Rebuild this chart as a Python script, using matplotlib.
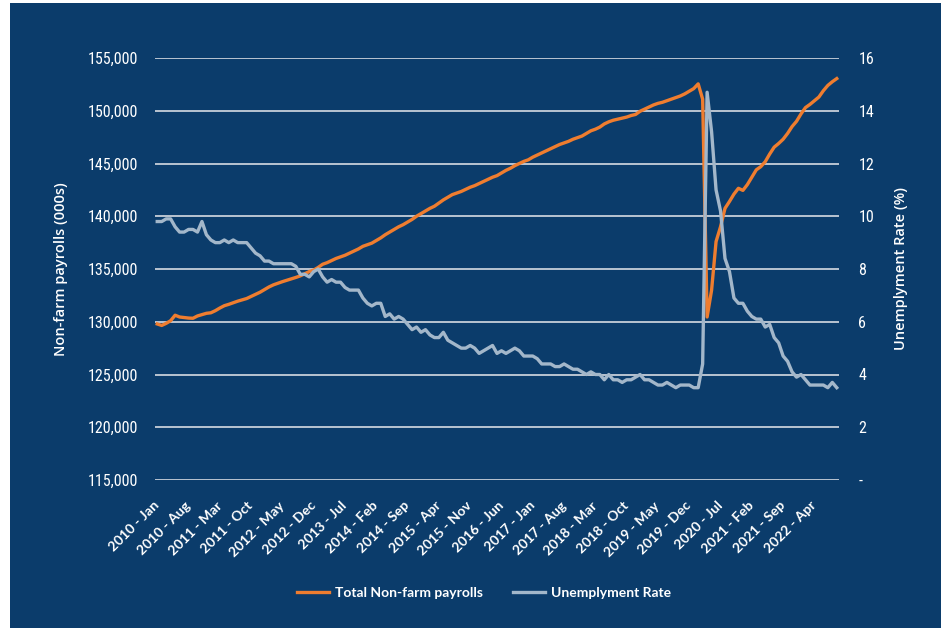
import numpy as np
import matplotlib
matplotlib.use("Agg")
import matplotlib.pyplot as plt
from matplotlib import font_manager
from matplotlib.patches import Rectangle
from matplotlib.transforms import ScaledTranslation

# monthly data, 2010 Jan .. 2022 Sep
payrolls = [
    # 2010
    129790, 129650, 129850, 130100, 130620, 130450, 130400, 130350, 130330, 130550, 130680, 130800,
    # 2011
    130850, 131050, 131300, 131520, 131650, 131800, 131950, 132080, 132200, 132400, 132600, 132800,
    # 2012
    133050, 133300, 133500, 133650, 133800, 133930, 134050, 134200, 134350, 134550, 134750, 134900,
    # 2013
    135150, 135450, 135600, 135800, 136000, 136150, 136300, 136500, 136700, 136900, 137150, 137300,
    # 2014
    137450, 137700, 137950, 138250, 138500, 138750, 139000, 139200, 139450, 139700, 140000, 140250,
    # 2015
    140500, 140750, 140950, 141250, 141550, 141800, 142050, 142200, 142350, 142550, 142750, 142900,
    # 2016
    143100, 143300, 143500, 143700, 143850, 144100, 144350, 144550, 144800, 145000, 145200, 145350,
    # 2017
    145600, 145800, 146000, 146200, 146400, 146600, 146800, 146950, 147100, 147300, 147450, 147600,
    # 2018
    147850, 148100, 148250, 148450, 148750, 148950, 149100, 149200, 149300, 149400, 149550, 149650,
    # 2019
    149950, 150150, 150350, 150550, 150700, 150800, 150950, 151100, 151250, 151400, 151600, 151850,
    # 2020
    152100, 152550, 151100, 130450, 133000, 137600, 139000, 140750, 141400, 142100, 142650, 142450,
    # 2021
    143000, 143700, 144400, 144700, 145170, 145900, 146550, 146900, 147300, 147850, 148500, 149000,
    # 2022
    149700, 150300, 150600, 150950, 151300, 151900, 152400, 152750, 153050,
]

unemployment = [
    9.8, 9.8, 9.9, 9.9, 9.6, 9.4, 9.4, 9.5, 9.5, 9.4, 9.8, 9.3,
    9.1, 9.0, 9.0, 9.1, 9.0, 9.1, 9.0, 9.0, 9.0, 8.8, 8.6, 8.5,
    8.3, 8.3, 8.2, 8.2, 8.2, 8.2, 8.2, 8.1, 7.8, 7.8, 7.7, 7.9,
    8.0, 7.7, 7.5, 7.6, 7.5, 7.5, 7.3, 7.2, 7.2, 7.2, 6.9, 6.7,
    6.6, 6.7, 6.7, 6.2, 6.3, 6.1, 6.2, 6.1, 5.9, 5.7, 5.8, 5.6,
    5.7, 5.5, 5.4, 5.4, 5.6, 5.3, 5.2, 5.1, 5.0, 5.0, 5.1, 5.0,
    4.8, 4.9, 5.0, 5.1, 4.8, 4.9, 4.8, 4.9, 5.0, 4.9, 4.7, 4.7,
    4.7, 4.6, 4.4, 4.4, 4.4, 4.3, 4.3, 4.4, 4.3, 4.2, 4.2, 4.1,
    4.0, 4.1, 4.0, 4.0, 3.8, 4.0, 3.8, 3.8, 3.7, 3.8, 3.8, 3.9,
    4.0, 3.8, 3.8, 3.7, 3.6, 3.6, 3.7, 3.6, 3.5, 3.6, 3.6, 3.6,
    3.5, 3.5, 4.4, 14.7, 13.2, 11.0, 10.2, 8.4, 7.9, 6.9, 6.7, 6.7,
    6.4, 6.2, 6.1, 6.1, 5.8, 5.9, 5.4, 5.2, 4.7, 4.5, 4.1, 3.9,
    4.0, 3.8, 3.6, 3.6, 3.6, 3.6, 3.5, 3.7, 3.5,
]

tick_labels = [
    "2010 - Jan", "2010 - Aug", "2011 - Mar", "2011 - Oct", "2012 - May", "2012 - Dec",
    "2013 - Jul", "2014 - Feb", "2014 - Sep", "2015 - Apr", "2015 - Nov", "2016 - Jun",
    "2017 - Jan", "2017 - Aug", "2018 - Mar", "2018 - Oct", "2019 - May", "2019 - Dec",
    "2020 - Jul", "2021 - Feb", "2021 - Sep", "2022 - Apr",
]

left_ticks = [115000, 120000, 125000, 130000, 135000, 140000, 145000, 150000, 155000]
right_ticks = [0, 2, 4, 6, 8, 10, 12, 14, 16]

navy = "#0b3c6b"
orange = "#ef7d2f"
grey = "#a3b7ca"

# narrow font for the value axes, whatever condensed face is around
narrow_font = {"family": "DejaVu Sans", "size": 10}
names = {(f.name, str(f.stretch)) for f in font_manager.fontManager.ttflist}
for fam in ["Liberation Sans Narrow", "Roboto Condensed", "Open Sans Condensed"]:
    if any(n == fam for n, _ in names):
        narrow_font = {"family": fam, "size": 11.5}
        break
else:
    if ("DejaVu Sans", "condensed") in names or ("DejaVu Sans", "semi-condensed") in names:
        narrow_font = {"family": "DejaVu Sans", "stretch": "condensed", "size": 11}

fig = plt.figure(figsize=(9.52, 6.39), dpi=100)
fig.patch.set_facecolor("white")
fig.patches.append(Rectangle((10 / 952, 11 / 639), 931 / 952, 625 / 639,
                             transform=fig.transFigure, facecolor=navy,
                             edgecolor="none", zorder=-10))

ax = fig.add_axes([155 / 952, 159 / 639, 684 / 952, 422 / 639])
ax.set_facecolor("none")
ax2 = ax.twinx()

x = np.arange(len(payrolls))
l1, = ax.plot(x, payrolls, color=orange, lw=2.4, solid_joinstyle="round", zorder=3)
l2, = ax2.plot(x, unemployment, color=grey, lw=2.4, solid_joinstyle="round", zorder=3)

ax.set_xlim(-0.5, len(payrolls) - 0.5)
ax.set_ylim(115000, 155000)
ax2.set_ylim(0, 16)

ax.set_yticks(left_ticks)
ax.set_yticklabels([f"{v:,}" for v in left_ticks], color="white", **narrow_font)
ax2.set_yticks(right_ticks)
ax2.set_yticklabels(["-" if v == 0 else str(v) for v in right_ticks],
                    color="white", **narrow_font)
ax.grid(axis="y", color="#d6dbe3", lw=1.2)
ax.set_axisbelow(True)

ax.set_xticks(x[::7])
ax.set_xticklabels(tick_labels, rotation=45, ha="right", va="center",
                   rotation_mode="anchor", fontsize=10, fontweight="bold",
                   family="Lato", color="white")
for lbl in ax.get_xticklabels():
    lbl.set_transform(lbl.get_transform() + ScaledTranslation(3 / 72, 0, fig.dpi_scale_trans))

for a in (ax, ax2):
    for s in a.spines.values():
        s.set_visible(False)
ax.tick_params(axis="x", length=0, pad=17)
ax.tick_params(axis="y", length=0, pad=12)
ax2.tick_params(axis="y", length=0, pad=14)

ax.set_ylabel("Non-farm payrolls (000s)", color="white", fontsize=10.5,
              fontweight="semibold", family="Open Sans")
ax.yaxis.set_label_coords((61 - 155) / 684, 0.5)
ax2.set_ylabel("Unemplyment Rate (%)", color="white", fontsize=10.5,
               fontweight="semibold", family="Open Sans", rotation=90)
ax2.yaxis.set_label_coords((901 - 155) / 684, 0.5)
ax.yaxis.label.set_va("center")
ax2.yaxis.label.set_va("center")

fig.legend([l1, l2], ["Total Non-farm payrolls", "Unemplyment Rate"],
           loc="center", bbox_to_anchor=(484 / 952, 1 - 593 / 639), ncol=2,
           frameon=False, handlelength=2.3, columnspacing=2.2, handletextpad=0.4,
           prop={"family": "Lato", "weight": "bold", "size": 10}, labelcolor="white")

fig.savefig("out.png", dpi=100, facecolor=fig.get_facecolor())
